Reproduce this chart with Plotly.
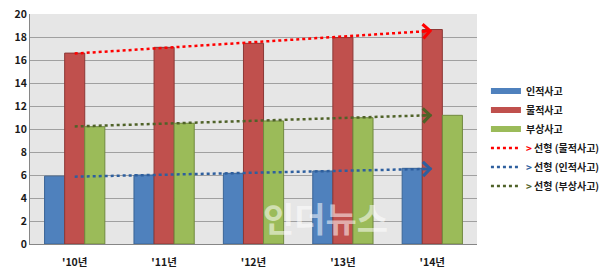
import numpy as np
import plotly.graph_objects as go

categories = ["'10년", "'11년", "'12년", "'13년", "'14년"]
injury = [5.9, 6.0, 6.15, 6.35, 6.58]       # 인적사고
property_ = [16.6, 17.1, 17.45, 17.95, 18.65]  # 물적사고
wounded = [10.2, 10.5, 10.7, 10.98, 11.19]    # 부상사고

xi = np.arange(len(categories))
FONT = "Noto Sans CJK KR"
PX_PER_UNIT_Y = 230 / 20.0
PX_PER_CAT = 447 / len(categories)

fig = go.Figure()

bar_specs = [
    ("인적사고", injury, "#4f81bd", "#3a6496"),
    ("물적사고", property_, "#c0504d", "#8c3836"),
    ("부상사고", wounded, "#9bbb59", "#71893f"),
]
for name, vals, col, edge in bar_specs:
    fig.add_trace(go.Bar(x=xi, y=vals, name=name, marker=dict(color=col, line=dict(color=edge, width=1)),
                         showlegend=False))

# legend proxies for bars
for name, vals, col, edge in bar_specs:
    fig.add_trace(go.Scatter(x=[None], y=[None], mode="lines", name="<b>%s</b>" % name,
                             line=dict(color=col, width=6)))

trend_specs = [
    ("선형 (물적사고)", property_, "#ff0000"),
    ("선형 (인적사고)", injury, "#2e5f9e"),
    ("선형 (부상사고)", wounded, "#4f6228"),
]
for name, vals, col in trend_specs:
    m, b = np.polyfit(xi, vals, 1)
    ty = m * xi + b
    label = "<span style='color:%s'><b>&gt;</b></span> <b>%s</b>" % (col, name)
    fig.add_trace(go.Scatter(x=xi, y=ty, mode="lines", name=label,
                             line=dict(color=col, width=2.5, dash="dot")))
    xe = xi[-1]
    back = 12
    fig.add_annotation(x=xe, y=m * xe + b, ax=-back, ay=m * back / PX_PER_CAT * PX_PER_UNIT_Y,
                       xref="x", yref="y", text="",
                       showarrow=True, arrowhead=4, arrowsize=1.1, arrowwidth=2.5,
                       arrowcolor=col)

# watermark
fig.add_annotation(x=0.66, y=0.117, xref="paper", yref="paper", yanchor="middle",
                   text="<b>인더뉴스</b>", showarrow=False,
                   font=dict(family=FONT, size=34, color="rgba(255,255,255,0.55)"))

fig.update_layout(
    width=600, height=273,
    margin=dict(l=30, r=123, t=14, b=29, autoexpand=False),
    paper_bgcolor="white", plot_bgcolor="#e6e6e6",
    barmode="group", bargap=0.326, bargroupgap=0,
    font=dict(family=FONT, size=10, color="#1a1a1a"),
    legend=dict(x=1.02, y=0.728, xanchor="left", yanchor="top", bgcolor="rgba(0,0,0,0)",
                font=dict(family=FONT, size=10, color="#1a1a1a"), itemwidth=30, tracegroupgap=0),
    xaxis=dict(tickmode="array", tickvals=xi, ticktext=["<b>%s</b>" % c for c in categories],
               range=[-0.5, len(categories) - 0.5], showgrid=False, zeroline=False,
               showline=True, linecolor="#868686", linewidth=1, ticks="", ticklen=0,
               ticklabelstandoff=8, automargin=False,
               tickfont=dict(family=FONT, size=10.5, color="#1a1a1a")),
    yaxis=dict(range=[0, 20], dtick=2, showgrid=True, gridcolor="#a0a0a0", gridwidth=1,
               zeroline=False, showline=True, linecolor="#868686", linewidth=1,
               automargin=False,
               ticks="", tickfont=dict(family=FONT, size=10.5, color="#1a1a1a"),
               tickprefix="<b>", ticksuffix="</b>"),
)

fig.write_html("out.html")
